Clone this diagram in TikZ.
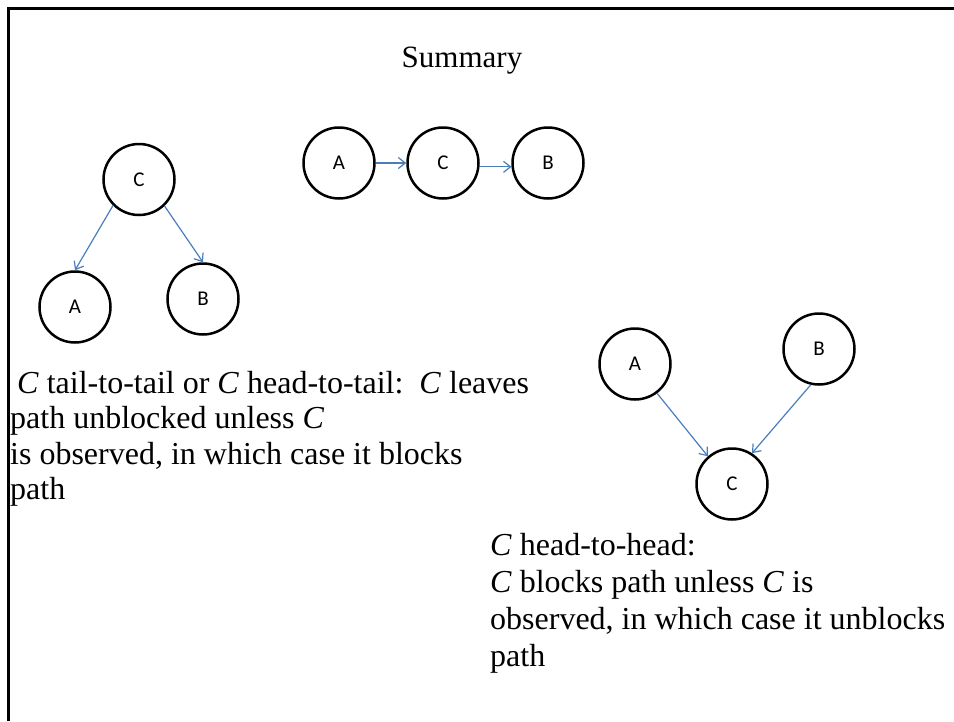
\documentclass[tikz,border=0pt]{standalone}
\usepackage{fontspec}
\setmainfont{Liberation Serif}
\newfontfamily\labelfont{Carlito}
\usetikzlibrary{arrows.meta}
\definecolor{edgeblue}{RGB}{74,126,187}
\begin{document}
\begin{tikzpicture}[x=1pt,y=-1pt,
  var/.style={circle,draw=black,line width=2.5pt,minimum size=71pt,inner sep=0pt,
    font=\labelfont\fontsize{21}{24}\selectfont},
  edge/.style={draw=edgeblue,line width=1.2pt,-{Straight Barb[length=7pt,width=11pt]}},
  body/.style={anchor=base west,align=left,inner sep=0pt}]
  \useasboundingbox (0,0) rectangle (954,721);
  % frame
  \draw[line width=2.2pt] (8.5,721) -- (8.5,8.5) -- (954,8.5);

  % title
  \node[anchor=base,inner sep=0pt,font=\fontsize{31}{36}\selectfont] (title) at (462,67) {Summary};

  % tail-to-tail
  \node[var] (tc) at (139,179.5) {C};
  \node[var] (ta) at (75,307) {A};
  \node[var] (tb) at (203,299) {B};
  \draw[edge] (tc.225) -- (ta.north);
  \draw[edge] (tc.314) -- (tb.north);

  % head-to-tail chain
  \node[var] (ca) at (339,163) {A};
  \node[var] (cc) at (443,163) {C};
  \node[var] (cb) at (548,163) {B};
  \draw[edge] (ca.east) -- (cc.west);
  \draw[edge] (cc.-6) -- (cb.186);

  % head-to-head
  \node[var] (ha) at (635,364) {A};
  \node[var] (hb) at (819,349) {B};
  \node[var] (hc) at (732,484) {C};
  \draw[edge] (ha.307) -- (hc.131);
  \draw[edge] (hb.257) -- (hc.57);

  % descriptions (node base = baseline of the last line)
  \node[body,font=\fontsize{32}{35.5}\selectfont] (lefttext) at (10,499.5)
    {\hspace*{7pt}\textit{C} tail-to-tail or \textit{C} head-to-tail:\ \ \textit{C} leaves\\
     path unblocked unless \textit{C}\\
     is observed, in which case it blocks\\
     path};
  \node[body,font=\fontsize{32}{37}\selectfont] (righttext) at (490,666)
    {\textit{C} head-to-head:\\
     \textit{C} blocks path unless \textit{C} is\\
     observed, in which case it unblocks\\
     path};
\end{tikzpicture}
\end{document}
